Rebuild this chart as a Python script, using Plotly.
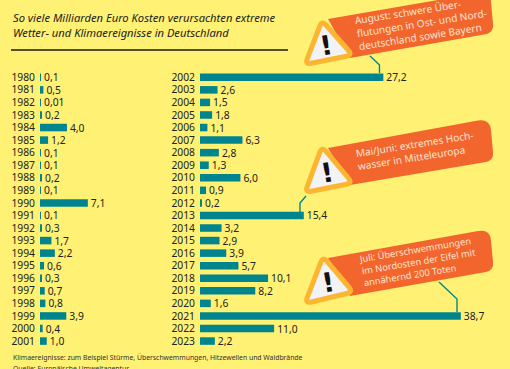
import plotly.graph_objects as go

years_a = [str(y) for y in range(1980, 2002)]
vals_a = [0.1, 0.5, 0.01, 0.2, 4.0, 1.2, 0.1, 0.1, 0.2, 0.1, 7.1, 0.1, 0.3, 1.7, 2.2, 0.6, 0.3, 0.7, 0.8, 3.9, 0.4, 1.0]
labels_a = ["0,1", "0,5", "0,01", "0,2", "4,0", "1,2", "0,1", "0,1", "0,2", "0,1", "7,1", "0,1", "0,3", "1,7", "2,2", "0,6", "0,3", "0,7", "0,8", "3,9", "0,4", "1,0"]
years_b = [str(y) for y in range(2002, 2024)]
vals_b = [27.2, 2.6, 1.5, 1.8, 1.1, 6.3, 2.8, 1.3, 6.0, 0.9, 0.2, 15.4, 3.2, 2.9, 3.9, 5.7, 10.1, 8.2, 1.6, 38.7, 11.0, 2.2]
labels_b = ["27,2", "2,6", "1,5", "1,8", "1,1", "6,3", "2,8", "1,3", "6,0", "0,9", "0,2", "15,4", "3,2", "2,9", "3,9", "5,7", "10,1", "8,2", "1,6", "38,7", "11,0", "2,2"]
title_text = "So viele Milliarden Euro Kosten verursachten extreme<br>Wetter- und Klimaereignisse in Deutschland"
foot_1 = "Klimaereignisse: zum Beispiel Stürme, Überschwemmungen, Hitzewellen und Waldbrände"
foot_2 = "Quelle: Europäische Umweltagentur"
note_1 = "August: schwere Über-<br>flutungen in Ost- und Nord-<br>deutschland sowie Bayern"
note_2 = "Mai/Juni: extremes Hoch-<br>wasser in Mitteleuropa"
note_3 = "Juli: Überschwemmungen<br>im Nordosten der Eifel mit<br>annähernd 200 Toten"

W, H = 510, 369
BG = "#FFF173"; TEAL = "#00858F"; ORANGE = "#F2662E"; AMBER = "#FBB531"; INK = "#222222"
FONT = "Noto Sans"
PX = 6.74
ROW0, ROW = 77.3, 12.56

def X(p): return p / W
def Y(p): return 1 - p / H
def path(points):
    out = []
    for i, (cmd, *c) in enumerate(points):
        if cmd == "Z":
            out.append("Z"); continue
        out.append(cmd + " " + " ".join(f"{X(c[j]):.4f},{Y(c[j+1]):.4f}" for j in range(0, len(c), 2)))
    return " ".join(out)

def tri(a, b, c):
    def mix(p, q, t): return (p[0] + (q[0] - p[0]) * t, p[1] + (q[1] - p[1]) * t)
    pts = [a, b, c]
    seg = []
    for i in range(3):
        p, prev, nxt = pts[i], pts[i - 1], pts[(i + 1) % 3]
        s, e = mix(p, prev, 0.13), mix(p, nxt, 0.13)
        seg.append(("M" if i == 0 else "L", *s))
        seg.append(("Q", *p, *e))
    seg.append(("Z",))
    return path(seg)

fig = go.Figure()
for vals, cats, labels, xa, ya in [(vals_a, years_a, labels_a, "x", "y"), (vals_b, years_b, labels_b, "x2", "y2")]:
    fig.add_trace(go.Bar(x=vals, y=cats, orientation="h", marker=dict(color=TEAL, line_width=0), width=0.6,
                         text=labels, textposition="outside", cliponaxis=False, xaxis=xa, yaxis=ya,
                         constraintext="none", textfont=dict(family=FONT, size=10.3, color=INK)))

def yaxis(cats, **kw):
    return dict(type="category", categoryorder="array", categoryarray=cats, tickmode="array", tickvals=cats, ticktext=cats,
                range=[(H - ROW0) / ROW, -ROW0 / ROW], showgrid=False, zeroline=False, showline=False,
                ticks="", tickfont=dict(family=FONT, size=10.3, color=INK), ticklabelstandoff=4, automargin=False, **kw)

shapes = [dict(type="line", xref="paper", yref="paper", x0=X(11), x1=X(288), y0=Y(50), y1=Y(50),
               line=dict(color="#1a1a1a", width=1.6))]
for pts in [[(370, 56), (379.5, 65), (379.5, 73)],
            [(306, 196), (300, 203), (300, 212)],
            [(439, 282), (457, 299), (457, 312)]]:
    shapes.append(dict(type="path", xref="paper", yref="paper",
                       path=path([("M" if i == 0 else "L", *p) for i, p in enumerate(pts)]),
                       line=dict(color=TEAL, width=1.4)))
banners = [
    [("M", 328, 19), ("L", 490, -9), ("L", 493, 24), ("Q", 494, 31, 487, 34), ("L", 350, 58), ("Z",)],
    [("M", 328, 148), ("L", 478, 120.5), ("Q", 490, 119, 491, 130), ("L", 493, 152), ("Q", 494, 160, 486, 162), ("L", 350, 185), ("Z",)],
    [("M", 328, 258), ("L", 478, 231), ("Q", 490, 229, 491, 240), ("L", 493, 262), ("Q", 494, 270, 486, 272), ("L", 350, 296), ("Z",)],
]
for b in banners:
    shapes.append(dict(type="path", xref="paper", yref="paper", path=path(b), fillcolor=ORANGE, line_width=0))
for a, b, c in [((322, 20.5), (305, 64.5), (352.5, 55)),
                ((322, 146.5), (305, 192.5), (352.5, 183)),
                ((323, 256.5), (305, 303.5), (353, 292))]:
    shapes.append(dict(type="path", xref="paper", yref="paper", path=tri(a, b, c), fillcolor="#F3F3F6",
                       line=dict(color=AMBER, width=5)))

def ann(text, x, y, angle=0, size=10.5, color=INK, anchor="left", yanchor="middle", align="left", family=FONT, **kw):
    return dict(text=text, xref="paper", yref="paper", x=X(x), y=Y(y), xanchor=anchor, yanchor=yanchor,
                showarrow=False, textangle=angle, align=align, borderpad=0,
                font=dict(family=family, size=size, color=color), **kw)

annots = [
    ann(f"<i>{title_text}</i>", 11.5, 25, size=11.2),
    ann(foot_1, 11.5, 357.5, size=6.85, color="#333333"),
    ann(foot_2, 11.5, 368, size=6.85, color="#333333"),
    ann(note_1, 421, 23, angle=-9, size=10.1, color="#FFE3CE", anchor="center"),
    ann(note_2, 415, 150, angle=-9, size=10.1, color="#FFE3CE", anchor="center"),
    ann(note_3, 418, 261, angle=-9.5, size=9.3, color="#FFE3CE", anchor="center"),
]
for x, y in [(325.5, 45), (327, 172.5), (327.5, 282)]:
    annots.append(ann("<b>!</b>", x, y, angle=-10, size=27, color="#111111", anchor="center", family="DejaVu Sans"))

fig.update_layout(
    width=W, height=H, margin=dict(l=0, r=0, t=0, b=0), autosize=False,
    paper_bgcolor=BG, plot_bgcolor=BG, showlegend=False,
    font=dict(family=FONT, size=10.3, color=INK),
    xaxis=dict(domain=[40 / W, 170 / W], range=[0, 130 / PX], visible=False, anchor="y"),
    xaxis2=dict(domain=[200 / W, 1], range=[0, 310 / PX], visible=False, anchor="y2"),
    yaxis=yaxis(years_a, anchor="x", domain=[0, 1]),
    yaxis2=yaxis(years_b, anchor="x2", domain=[0, 1]),
    shapes=shapes, annotations=annots,
)
fig.write_html("out.html", config=dict(displayModeBar=False, responsive=False),
               post_script="document.documentElement.style.margin='0';document.body.style.margin='0';document.body.style.overflow='hidden';document.body.style.background='" + BG + "';")
